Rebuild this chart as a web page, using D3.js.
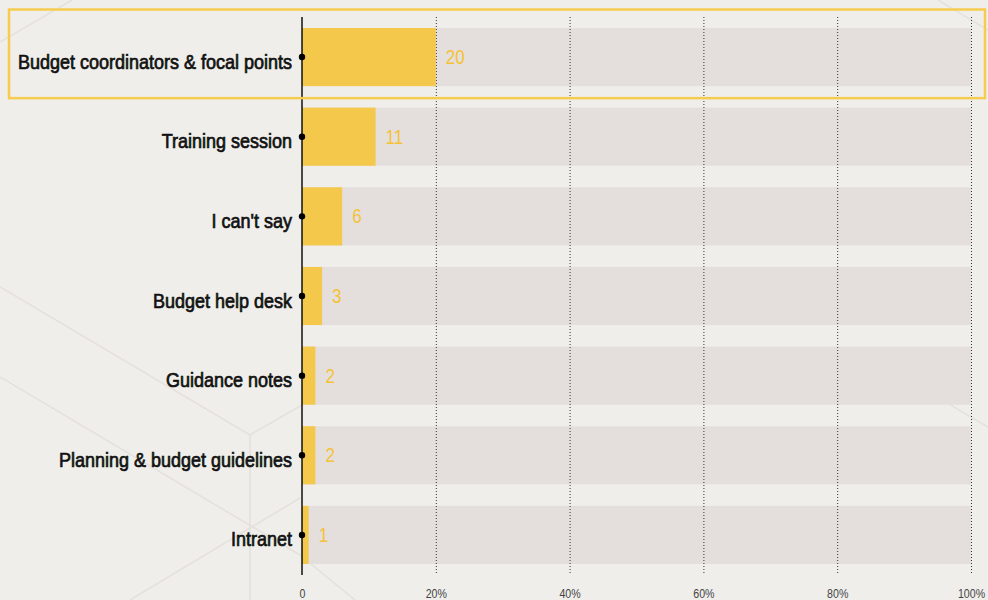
<!DOCTYPE html>
<html>
<head>
<meta charset="utf-8">
<script src="https://cdn.jsdelivr.net/npm/d3@7/dist/d3.min.js"></script>
<style>
  html, body { margin: 0; padding: 0; background: #efeeeb; }
  svg { display: block; }
  .cat { font-family: "Liberation Sans", Arial, sans-serif; font-weight: 400; font-size: 20px; fill: #111; stroke: #111; stroke-width: 0.7px; }
  .val { font-family: "Liberation Sans", Arial, sans-serif; font-size: 20px; fill: #f5c236; }
  .tick text { font-family: "Liberation Sans", Arial, sans-serif; font-size: 12.5px; fill: #444; }
</style>
</head>
<body>
<svg id="chart" width="988" height="600"></svg>
<script>
// Survey answers: where respondents get budget information (% of respondents)
const categories = [
  "Budget coordinators & focal points",
  "Training session",
  "I can't say",
  "Budget help desk",
  "Guidance notes",
  "Planning & budget guidelines",
  "Intranet"
];
const values = [20, 11, 6, 3, 2, 2, 1];
const tickValues = [0, 20, 40, 60, 80, 100];
const tickLabels = ["0", "20%", "40%", "60%", "80%", "100%"];
const highlighted = "Budget coordinators & focal points";

const W = 988, H = 600;
const NARROW = 0.85;     // horizontal squeeze for a condensed look
const NARROW_CAT = 0.9;  // category labels are a touch wider

const svg = d3.select("#chart");

svg.append("rect").attr("width", W).attr("height", H).attr("fill", "#efeeeb");

// faint hexagon outline pattern in the background
const deco = svg.append("g").attr("stroke", "#e4e1dd").attr("stroke-width", 1.5).attr("fill", "none");
const decoPaths = [
  "M0,287 L250,435 L250,600",
  "M250,435 L302,405",
  "M0,377 L300,555",
  "M130,600 L300,498",
  "M300,555 L355,600",
  "M0,42 L72,0",
  "M938,0 L988,30",
  "M900,375 L988,427"
];
decoPaths.forEach(d => deco.append("path").attr("d", d));

const x = d3.scaleLinear().domain([0, 100]).range([302, 971]);
const y = d3.scaleBand().domain(categories).range([28, 564]).paddingInner(0.27).paddingOuter(0);

// full-width track behind each bar
svg.append("g").selectAll("rect")
  .data(categories)
  .join("rect")
  .attr("x", x(0))
  .attr("y", d => y(d))
  .attr("width", x(100) - x(0))
  .attr("height", y.bandwidth())
  .attr("fill", "#e4dfdc");

// dotted gridlines
svg.append("g").selectAll("line")
  .data(tickValues.filter(t => t > 0))
  .join("line")
  .attr("x1", d => x(d) + 0.5).attr("x2", d => x(d) + 0.5)
  .attr("y1", 17).attr("y2", 575)
  .attr("stroke", "#333")
  .attr("stroke-width", 1)
  .attr("stroke-dasharray", "1,2");

// value bars
const data = categories.map((c, i) => ({ c, v: values[i] }));
svg.append("g").selectAll("rect")
  .data(data)
  .join("rect")
  .attr("x", x(0))
  .attr("y", d => y(d.c))
  .attr("width", d => x(d.v) - x(0))
  .attr("height", y.bandwidth())
  .attr("fill", "#f4c84b");

// value labels
svg.append("g").selectAll("text")
  .data(data)
  .join("text")
  .attr("class", "val")
  .attr("transform", d => `translate(${x(d.v) + 10},${y(d.c) + y.bandwidth() / 2 + 7}) scale(${NARROW},1)`)
  .text(d => d.v);

// zero axis line
svg.append("line")
  .attr("x1", x(0)).attr("x2", x(0))
  .attr("y1", 17).attr("y2", 575)
  .attr("stroke", "#111").attr("stroke-width", 1.5);

// dots at each category
svg.append("g").selectAll("circle")
  .data(categories)
  .join("circle")
  .attr("cx", x(0))
  .attr("cy", d => y(d) + y.bandwidth() / 2)
  .attr("r", 3.2)
  .attr("fill", "#000");

// category labels
svg.append("g").selectAll("text")
  .data(categories)
  .join("text")
  .attr("class", "cat")
  .attr("transform", d => `translate(292,${y(d) + y.bandwidth() / 2 + 11.5}) scale(${NARROW_CAT},1)`)
  .attr("text-anchor", "end")
  .text(d => d);

// bottom axis
const axis = d3.axisBottom(x)
  .tickValues(tickValues)
  .tickFormat((d, i) => tickLabels[i])
  .tickSize(0)
  .tickPadding(3);
svg.append("g")
  .attr("transform", "translate(0,586)")
  .call(axis)
  .call(g => g.select(".domain").remove())
  .call(g => g.selectAll(".tick text").attr("transform", `scale(${NARROW},1)`));

// highlight frame around the leading answer
svg.append("rect")
  .attr("x", 9)
  .attr("y", y(highlighted) - 18.5)
  .attr("width", 976)
  .attr("height", y.bandwidth() + 30.5)
  .attr("fill", "none")
  .attr("stroke", "#f6cc4f")
  .attr("stroke-width", 2.5);
</script>
</body>
</html>
